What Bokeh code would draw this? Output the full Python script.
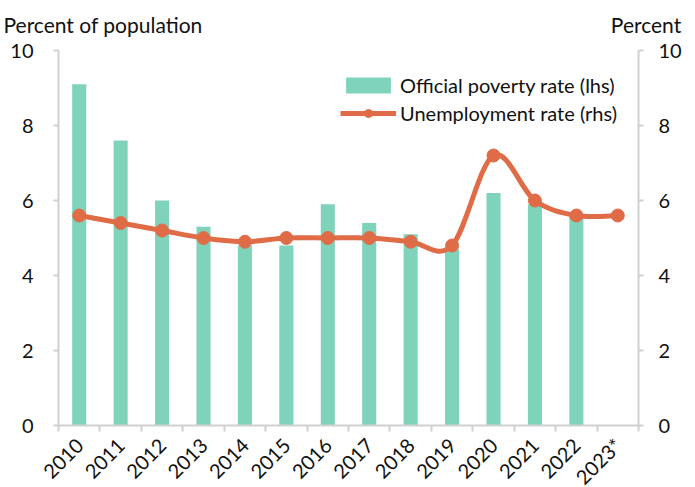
import math
from bokeh.plotting import figure
from bokeh.models import (Range1d, LinearAxis, FixedTicker, Legend,
                          LegendItem, Title)
from bokeh.embed import file_html
from bokeh.resources import INLINE

# ---- data ----
years = ["2010", "2011", "2012", "2013", "2014", "2015", "2016",
         "2017", "2018", "2019", "2020", "2021", "2022", "2023*"]
poverty_rate = [9.1, 7.6, 6.0, 5.3, 4.8, 4.8, 5.9, 5.4, 5.1, 4.7, 6.2, 5.9, 5.6, None]
unemployment_rate = [5.6, 5.4, 5.2, 5.0, 4.9, 5.0, 5.0, 5.0, 4.9, 4.8, 7.2, 6.0, 5.6, 5.6]
left_ticks = [0, 2, 4, 6, 8, 10]
right_ticks = [0, 2, 4, 6, 8, 10]
left_title = "Percent of population"
right_title = "Percent"

FONT = "Lato"
FS = "20px"
BAR_COLOR = "#80D3BB"
LINE_COLOR = "#E06C47"
AXIS_COLOR = "#D0D0D0"
TEXT_COLOR = "#111111"

n = len(years)
centers = [i + 0.5 for i in range(n)]

p = figure(frame_width=580, frame_height=375, output_backend="svg", toolbar_location=None,
           x_range=Range1d(0, n), y_range=Range1d(0, 10),
           min_border_left=58, min_border_right=52, min_border_top=49,
           min_border_bottom=60)
p.extra_y_ranges = {"right": Range1d(0, 10)}
p.outline_line_color = None
p.xgrid.visible = False
p.ygrid.visible = False
p.background_fill_color = "white"
p.border_fill_color = "white"

# bars
bx = [c for c, v in zip(centers, poverty_rate) if v is not None]
bt = [v for v in poverty_rate if v is not None]
bars = p.vbar(x=bx, top=bt, width=0.34, bottom=0, fill_color=BAR_COLOR,
              line_color=None)

# smoothed unemployment line (Catmull-Rom style bezier through the data points)
x0s, y0s, x1s, y1s, cx0s, cy0s, cx1s, cy1s = ([] for _ in range(8))
for i in range(n - 1):
    ia = i - 1 if i > 0 else i
    id_ = i + 2 if i + 2 < n else i + 1
    xa, ya = centers[ia], unemployment_rate[ia]
    xb, yb = centers[i], unemployment_rate[i]
    xc, yc = centers[i + 1], unemployment_rate[i + 1]
    xd, yd = centers[id_], unemployment_rate[id_]
    x0s.append(xb); y0s.append(yb); x1s.append(xc); y1s.append(yc)
    cx0s.append(xb + (xc - xa) / 6); cy0s.append(yb + (yc - ya) / 6)
    cx1s.append(xc - (xd - xb) / 6); cy1s.append(yc - (yd - yb) / 6)

curve = p.bezier(x0=x0s, y0=y0s, x1=x1s, y1=y1s, cx0=cx0s, cy0=cy0s,
                 cx1=cx1s, cy1=cy1s, line_color=LINE_COLOR, line_width=5,
                 y_range_name="right")
pts = p.scatter(x=centers, y=unemployment_rate, size=13, fill_color=LINE_COLOR,
                line_color=LINE_COLOR, y_range_name="right")

# x axis
xa_ = p.xaxis[0]
xa_.ticker = FixedTicker(ticks=centers, minor_ticks=list(range(n + 1)))
xa_.major_label_overrides = {c: y for c, y in zip(centers, years)}
xa_.major_tick_out = 0
xa_.major_tick_in = 0
xa_.minor_tick_out = 6
xa_.minor_tick_in = 0
xa_.minor_tick_line_color = AXIS_COLOR
xa_.minor_tick_line_width = 2
xa_.axis_line_color = AXIS_COLOR
xa_.axis_line_width = 2
xa_.major_label_orientation = math.pi / 4
xa_.major_label_standoff = 10
xa_.major_label_text_font = FONT
xa_.major_label_text_font_size = FS
xa_.major_label_text_color = TEXT_COLOR

# left y axis
ya_ = p.yaxis[0]
ya_.ticker = FixedTicker(ticks=left_ticks, minor_ticks=[])
ya_.major_tick_out = 5
ya_.major_tick_in = 0
ya_.major_tick_line_color = AXIS_COLOR
ya_.major_tick_line_width = 2
ya_.axis_line_color = AXIS_COLOR
ya_.axis_line_width = 2
ya_.major_label_standoff = 20
ya_.major_label_text_font = FONT
ya_.major_label_text_font_size = FS
ya_.major_label_text_color = TEXT_COLOR

# right y axis
ry = LinearAxis(y_range_name="right", ticker=FixedTicker(ticks=right_ticks, minor_ticks=[]))
ry.major_tick_out = 5
ry.major_tick_in = 0
ry.major_tick_line_color = AXIS_COLOR
ry.major_tick_line_width = 2
ry.axis_line_color = AXIS_COLOR
ry.axis_line_width = 2
ry.major_label_standoff = 15
ry.major_label_text_font = FONT
ry.major_label_text_font_size = FS
ry.major_label_text_color = TEXT_COLOR
p.add_layout(ry, "right")

# axis titles (one header line: left title ... right title)
header = left_title + "\u00A0" * 76 + right_title
p.add_layout(Title(text=header, align="left", offset=-55, vertical_align="top",
                   standoff=23, text_font=FONT, text_font_size="21px",
                   text_font_style="normal", text_color=TEXT_COLOR), "above")

# legend
legend = Legend(items=[LegendItem(label="Official poverty rate (lhs)", renderers=[bars]),
                       LegendItem(label="Unemployment rate (rhs)", renderers=[curve, pts])],
                location=(282, 300), padding=0, margin=0, spacing=4,
                glyph_height=20, glyph_width=56, label_height=20, label_standoff=4,
                label_text_font=FONT, label_text_font_size=FS,
                label_text_color=TEXT_COLOR, border_line_alpha=0,
                background_fill_alpha=0)
p.add_layout(legend)

open("out.html", "w").write(file_html(p, INLINE))
